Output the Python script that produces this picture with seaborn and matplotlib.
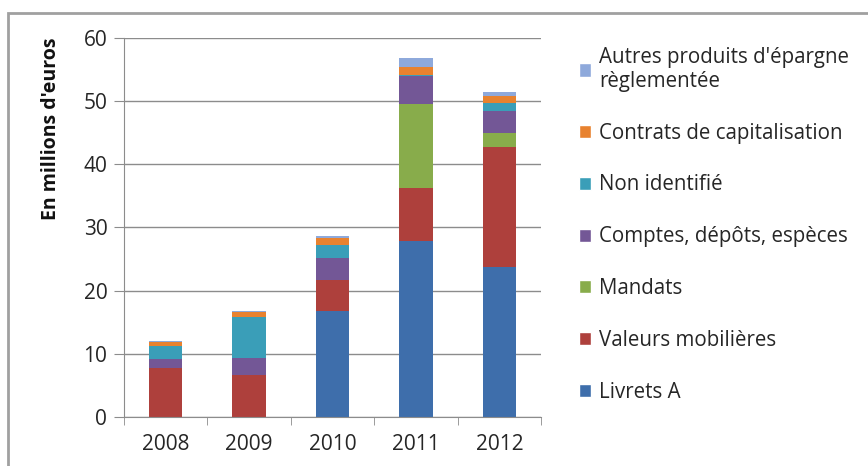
import numpy as np
import pandas as pd
import matplotlib.pyplot as plt
import seaborn as sns
from matplotlib.patches import Patch, Rectangle

years = ["2008", "2009", "2010", "2011", "2012"]

livrets_a = [0.0, 0.0, 16.8, 27.9, 23.8]
valeurs = [7.8, 6.7, 4.9, 8.3, 19.0]
mandats = [0.0, 0.0, 0.0, 13.3, 2.1]
comptes = [1.3, 2.7, 3.4, 4.5, 3.5]
non_identifie = [2.1, 6.5, 2.2, 0.1, 1.3]
contrats = [0.7, 0.7, 1.1, 1.3, 1.15]
autres = [0.2, 0.25, 0.25, 1.4, 0.65]

labels = ["Livrets A", "Valeurs mobilières", "Mandats", "Comptes, dépôts, espèces",
          "Non identifié", "Contrats de capitalisation",
          "Autres produits d'épargne\nrèglementée"]
colors = ["#3E6EAB", "#AE403C", "#88AC4B", "#735796", "#3A9EB8", "#E8822F", "#8EA9DB"]

df = pd.DataFrame({"year": years, "l": livrets_a, "v": valeurs, "m": mandats,
                   "c": comptes, "n": non_identifie, "ct": contrats, "a": autres})
cols = ["l", "v", "m", "c", "n", "ct", "a"]
cum = df[cols].cumsum(axis=1)

sns.set_style("white")
plt.rcParams["font.family"] = ["Open Sans", "DejaVu Sans"]

fig = plt.figure(figsize=(8.68, 4.66), dpi=100)
ax = fig.add_axes([0.1429, 0.1052, 0.6233 - 0.1429, 0.9185 - 0.1052])

# stacked bars: draw cumulative totals from top layer down
for col, c in reversed(list(zip(cols, colors))):
    sns.barplot(x=df["year"], y=cum[col], color=c, width=0.4, saturation=1,
                linewidth=0, ax=ax, zorder=3)

ax.set_ylim(0, 60)
ax.set_xlim(-0.5, 4.5)
ax.set_yticks(range(0, 61, 10))
ax.yaxis.grid(True, color="#8C8C8C", lw=1, zorder=0)
ax.set_axisbelow(True)
for s in ["top", "right"]:
    ax.spines[s].set_visible(False)
for s in ["left", "bottom"]:
    ax.spines[s].set_color("#8C8C8C")
    ax.spines[s].set_zorder(4)
ax.tick_params(axis="y", length=7, color="#8C8C8C", labelsize=15, pad=5, left=True,
               labelcolor="#262626")
ax.set_xticks(np.arange(-0.5, 5, 1), minor=True)
ax.tick_params(axis="x", which="major", length=0, labelsize=15, pad=12, labelcolor="#262626")
ax.tick_params(axis="x", which="minor", length=6, color="#8C8C8C", bottom=True)
ax.set_xlabel("")
ax.set_ylabel("En millions d'euros", fontsize=14, fontweight="bold", color="#111111")
ax.yaxis.set_label_coords(-0.15, 0.76)

handles = [Patch(facecolor=c, label=l) for c, l in zip(colors, labels)][::-1]
fig.legend(handles=handles, loc="upper left", bbox_to_anchor=(0.655, 0.922),
           frameon=False, fontsize=14.8, handlelength=0.6, handleheight=0.6,
           handletextpad=0.4, labelspacing=1.5, borderpad=0, labelcolor="#262626")

fig.patches.append(Rectangle((8 / 868, -0.1), 1.2, (466 - 13) / 466 + 0.1,
                             transform=fig.transFigure, fill=False,
                             edgecolor="#A0A0A0", lw=2))

fig.savefig("out.png", dpi=100)
